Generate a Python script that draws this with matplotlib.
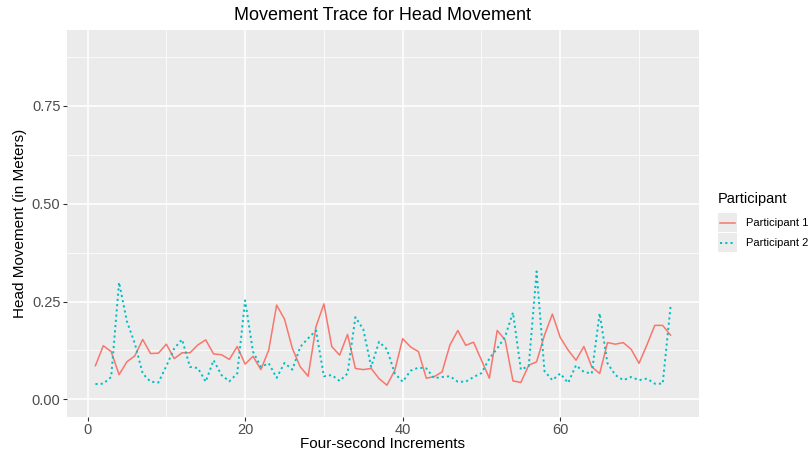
import matplotlib.pyplot as plt
import numpy as np
from matplotlib.lines import Line2D

plt.rcParams['font.family'] = ['Liberation Sans', 'DejaVu Sans']

# values, one per four-second increment
increments = np.arange(1, 75)
participant_1 = [0.086, 0.137, 0.122, 0.063, 0.096, 0.111, 0.153, 0.117, 0.118, 0.141,
                 0.104, 0.119, 0.119, 0.139, 0.152, 0.116, 0.114, 0.102, 0.135, 0.090,
                 0.110, 0.076, 0.126, 0.241, 0.205, 0.130, 0.083, 0.059, 0.186, 0.244,
                 0.135, 0.113, 0.166, 0.079, 0.076, 0.079, 0.053, 0.036, 0.074, 0.155,
                 0.134, 0.122, 0.054, 0.058, 0.070, 0.139, 0.176, 0.138, 0.146, 0.100,
                 0.054, 0.176, 0.152, 0.047, 0.043, 0.087, 0.096, 0.164, 0.218, 0.158,
                 0.126, 0.100, 0.135, 0.083, 0.066, 0.145, 0.141, 0.145, 0.128, 0.092,
                 0.139, 0.189, 0.189, 0.164]
participant_2 = [0.039, 0.040, 0.057, 0.299, 0.199, 0.143, 0.066, 0.045, 0.043, 0.085,
                 0.130, 0.153, 0.083, 0.080, 0.045, 0.100, 0.062, 0.046, 0.066, 0.253,
                 0.122, 0.083, 0.092, 0.055, 0.093, 0.076, 0.134, 0.156, 0.176, 0.059,
                 0.062, 0.047, 0.066, 0.210, 0.179, 0.083, 0.147, 0.128, 0.066, 0.045,
                 0.073, 0.081, 0.079, 0.054, 0.057, 0.059, 0.045, 0.045, 0.057, 0.067,
                 0.104, 0.130, 0.160, 0.222, 0.076, 0.085, 0.327, 0.072, 0.049, 0.066,
                 0.042, 0.087, 0.070, 0.066, 0.220, 0.092, 0.062, 0.049, 0.057, 0.049,
                 0.053, 0.040, 0.040, 0.237]
labels = ["Participant 1", "Participant 2"]

red = "#F8766D"
cyan = "#00BFC4"
dotted = (0, (1.1, 1.6))

fig = plt.figure(figsize=(8.09, 4.55), dpi=100)
ax = fig.add_axes([0.0824, 0.0837, 0.782, 0.851])
ax.set_facecolor("#EBEBEB")

ax.plot(increments, participant_1, color=red, lw=1.1, zorder=3)
ax.plot(increments, participant_2, color=cyan, lw=1.4, ls=dotted, zorder=3)

ax.set_xlim(-2.65, 77.65)
ax.set_ylim(-0.045, 0.945)
ax.set_xticks([0, 20, 40, 60])
ax.set_xticks([10, 30, 50, 70], minor=True)
ax.set_yticks([0, 0.25, 0.5, 0.75])
ax.set_yticklabels(["0.00", "0.25", "0.50", "0.75"])
ax.set_yticks([0.125, 0.375, 0.625, 0.875], minor=True)
ax.grid(which="major", color="white", lw=1.1)
ax.grid(which="minor", color="white", lw=0.55)
ax.set_axisbelow(True)
for s in ax.spines.values():
    s.set_visible(False)
ax.tick_params(which="major", length=3, color="#333333", labelcolor="#4D4D4D", labelsize=10.5, pad=1.5)
ax.tick_params(which="minor", length=0)

ax.set_title("Movement Trace for Head Movement", fontsize=13, pad=7)
ax.set_xlabel("Four-second Increments", fontsize=11, labelpad=0)
ax.set_ylabel("Head Movement (in Meters)", fontsize=11, labelpad=3)

# legend drawn ggplot style, keys with grey background
fig.text(718 / 809, 1 - 199 / 455, "Participant", fontsize=10.5, va="center")
for k, (lab, col, ls, lw) in enumerate(zip(labels, [red, cyan], ["-", dotted], [1.1, 1.4])):
    top = 213 + k * 20
    kax = fig.add_axes([718 / 809, 1 - (top + 19) / 455, 19 / 809, 19 / 455])
    kax.set_facecolor("#EBEBEB")
    kax.add_line(Line2D([0.1, 0.9], [0.5, 0.5], color=col, ls=ls, lw=lw))
    kax.set_xlim(0, 1)
    kax.set_ylim(0, 1)
    kax.set_xticks([])
    kax.set_yticks([])
    for s in kax.spines.values():
        s.set_visible(False)
    fig.text(746 / 809, 1 - (top + 10) / 455, lab, fontsize=8, va="center")

fig.savefig("out.png", dpi=100)
